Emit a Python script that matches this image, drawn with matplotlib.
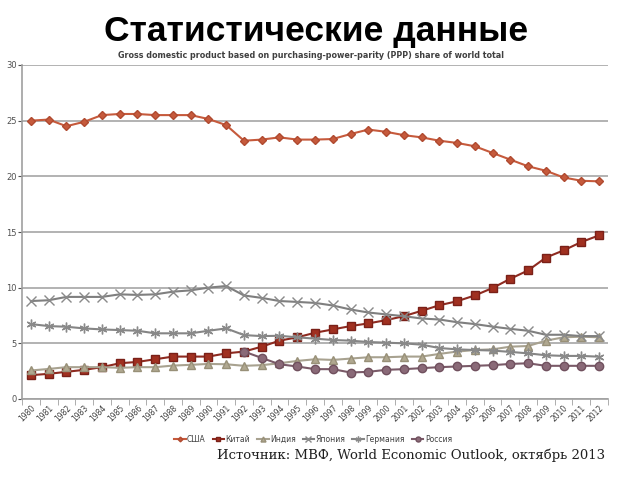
import numpy as np
import matplotlib
matplotlib.use("Agg")
import matplotlib.pyplot as plt

years = [str(y) for y in range(1980, 2013)]
usa = [25.0, 25.1, 24.5, 24.9, 25.5, 25.6, 25.6, 25.5, 25.5, 25.5, 25.15, 24.6,
       23.2, 23.3, 23.5, 23.3, 23.3, 23.35, 23.8, 24.2, 24.0, 23.7, 23.5, 23.2,
       23.0, 22.7, 22.1, 21.5, 20.9, 20.5, 19.9, 19.6, 19.55]
china = [2.14, 2.26, 2.44, 2.62, 2.86, 3.21, 3.33, 3.57, 3.81, 3.81, 3.81, 4.1,
         4.26, 4.7, 5.24, 5.54, 5.95, 6.25, 6.55, 6.79, 7.08, 7.44, 7.92, 8.42,
         8.78, 9.3, 9.97, 10.8, 11.55, 12.7, 13.35, 14.1, 14.7]
india = [2.56, 2.7, 2.86, 2.86, 2.86, 2.8, 2.86, 2.86, 3.0, 3.07, 3.15, 3.12,
         2.98, 3.04, 3.21, 3.42, 3.57, 3.51, 3.63, 3.75, 3.75, 3.81, 3.81, 4.05,
         4.26, 4.4, 4.46, 4.7, 4.76, 5.24, 5.54, 5.6, 5.54]
japan = [8.8, 8.87, 9.17, 9.17, 9.17, 9.4, 9.35, 9.4, 9.64, 9.76, 10.0, 10.15,
         9.3, 9.08, 8.8, 8.72, 8.63, 8.4, 8.04, 7.77, 7.6, 7.44, 7.23, 7.14,
         6.9, 6.73, 6.5, 6.3, 6.13, 5.77, 5.77, 5.65, 5.65]
germany = [6.73, 6.55, 6.49, 6.34, 6.25, 6.19, 6.13, 5.9, 5.9, 5.9, 6.13, 6.34,
           5.74, 5.65, 5.68, 5.54, 5.42, 5.3, 5.24, 5.12, 5.06, 5.0, 4.88, 4.58,
           4.46, 4.4, 4.35, 4.23, 4.1, 3.93, 3.87, 3.87, 3.8]
russia = [None] * 12 + [4.26, 3.69, 3.12, 2.92, 2.68, 2.68, 2.38, 2.44, 2.62, 2.68,
                        2.77, 2.86, 2.92, 2.98, 3.04, 3.15, 3.21, 2.98, 2.98, 2.98, 2.98]
names = ["США", "Китай", "Индия", "Япония", "Германия", "Россия"]

fig = plt.figure(figsize=(6.4, 4.8), dpi=100)
ax = fig.add_axes([22/640, 1-399/480, (608-22)/640, (399-65)/480])

x = np.arange(len(years))
def arr(v):
    return np.array([np.nan if e is None else e for e in v], dtype=float)

styles = [
    (usa, dict(color="#C65A3C", marker="D", ms=4, mfc="#C65A3C", mec="#B04A30")),
    (china, dict(color="#8E2A20", marker="s", ms=6, mfc="#A03020", mec="#7A2018")),
    (india, dict(color="#A8A290", marker="^", ms=6, mfc="#B0A890", mec="#989078")),
    (japan, dict(color="#7F7F7F", marker="x", ms=7, mfc="none", mec="#8A8A8A", mew=1.0)),
    (germany, dict(color="#858585", marker=(6, 2, 0), ms=7, mfc="none", mec="#8A8A8A", mew=1.0)),
    (russia, dict(color="#7A5A68", marker="o", ms=6, mfc="#8A6A78", mec="#70505E")),
]
lines = []
for (vals, st), nm in zip(styles, names):
    l, = ax.plot(x, arr(vals), lw=1.5, label=nm, **st)
    lines.append(l)

ax.set_xlim(-0.5, len(years) - 0.5)
ax.set_ylim(0, 30)
ax.set_yticks(np.arange(0, 31, 5))
ax.yaxis.grid(True, color="#A6A6A6", lw=1.2)
ax.set_axisbelow(True)
ax.set_xticks(x)
ax.set_xticklabels(years, rotation=45, ha="right", rotation_mode="anchor", fontsize=5.5, color="#404040")
ax.set_xticks(np.arange(-0.5, len(years)), minor=True)
ax.tick_params(axis="x", which="major", length=0, pad=3)
ax.tick_params(axis="x", which="minor", length=4, color="#A0A0A0")
ax.tick_params(axis="y", labelsize=6, colors="#505050", length=3, pad=1)
for s in ["top", "right"]:
    ax.spines[s].set_visible(False)
for s in ["left", "bottom"]:
    ax.spines[s].set_color("#A0A0A0")
    ax.spines[s].set_linewidth(1.2)

fig.text(316/640, 1-31/480, "Статистические данные", ha="center", va="center",
         fontsize=25.5, fontweight="bold", family="Liberation Sans")
fig.text(311/640, 1-55/480, "Gross domestic product based on purchasing-power-parity (PPP) share of world total",
         ha="center", va="center", fontsize=5.8, fontweight="bold", color="#404040")

fig.legend(handles=lines, loc="center", bbox_to_anchor=(313/640, 1-439/480), ncol=6,
           frameon=False, fontsize=5.5, handlelength=1.5, columnspacing=0.9,
           markerscale=0.6, handletextpad=0.2, labelcolor="#404040")

fig.text(411/640, 1-455/480, "Источник: МВФ, World Economic Outlook, октябрь 2013",
         ha="center", va="center", fontsize=9.5, family="DejaVu Serif", color="#202020")

fig.savefig("out.png", dpi=100)
